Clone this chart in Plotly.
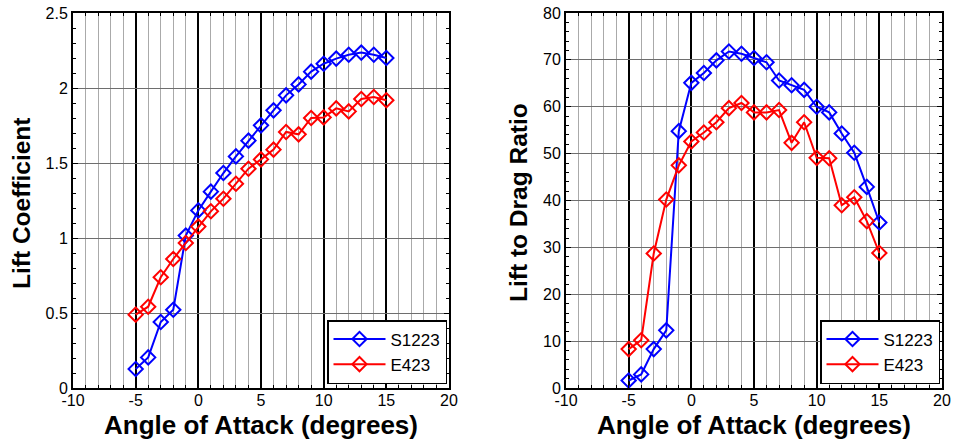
import plotly.graph_objects as go

# Angle of attack (degrees)
alpha = [-5, -4, -3, -2, -1, 0, 1, 2, 3, 4, 5, 6, 7, 8, 9, 10, 11, 12, 13, 14, 15]

# Lift coefficient
cl_s1223 = [0.127, 0.204, 0.44, 0.522, 1.016, 1.184, 1.309, 1.433, 1.544, 1.649, 1.751,
            1.851, 1.951, 2.024, 2.109, 2.162, 2.196, 2.222, 2.236, 2.222, 2.200]
cl_e423 = [0.489, 0.542, 0.738, 0.860, 0.967, 1.076, 1.178, 1.262, 1.362, 1.462, 1.524,
           1.589, 1.707, 1.691, 1.800, 1.804, 1.864, 1.844, 1.927, 1.940, 1.918]

# Lift to drag ratio
ld_s1223 = [1.6, 2.9, 8.3, 12.3, 54.8, 65.1, 67.2, 69.9, 71.8, 71.3, 70.4,
            69.5, 65.6, 64.6, 63.6, 60.0, 58.8, 54.3, 50.2, 42.9, 35.3]
ld_e423 = [8.3, 10.2, 28.7, 40.2, 47.5, 52.6, 54.5, 56.7, 59.7, 60.8, 58.8,
           58.8, 59.3, 52.3, 56.7, 49.1, 49.0, 39.0, 40.7, 35.6, 28.8]

x_ticks = [-10, -5, 0, 5, 10, 15, 20]
x_tick_text = ["-10", "-5", "0", "5", "10", "15", "20"]
cl_ticks = [0, 0.5, 1, 1.5, 2, 2.5]
cl_tick_text = ["0", "0.5", "1", "1.5", "2", "2.5"]
ld_ticks = [0, 10, 20, 30, 40, 50, 60, 70, 80]

FONT = "Liberation Sans, Arial, sans-serif"
W, H = 953, 441

fig = go.Figure()

series = [
    ("S1223", "#0000ff", cl_s1223, ld_s1223),
    ("E423", "#ff0000", cl_e423, ld_e423),
]
for name, color, cl, ld in series:
    common = dict(
        mode="lines+markers",
        line=dict(color=color, width=2),
        marker=dict(symbol="diamond-open", size=11, color=color, line=dict(width=2, color=color)),
        name=name,
    )
    fig.add_trace(go.Scatter(x=alpha, y=cl, xaxis="x", yaxis="y", legend="legend", **common))
    fig.add_trace(go.Scatter(x=alpha, y=ld, xaxis="x2", yaxis="y2", legend="legend2", **common))

# plot-area geometry in pixels
left_box = (73, 449)
right_box = (566, 942)
top_px, bottom_px = 13, 388
ydom = [1 - bottom_px / H, 1 - top_px / H]


def xaxis_cfg(box, anchor):
    return dict(
        domain=[box[0] / W, box[1] / W], anchor=anchor, range=[-10, 20],
        automargin=False,
        tickmode="array", tickvals=x_ticks, ticktext=x_tick_text,
        ticks="inside", ticklen=5, tickcolor="black", tickwidth=1,
        ticklabelstandoff=-3,
        showline=True, linecolor="black", linewidth=2, mirror="allticks",
        showgrid=True, gridcolor="black", gridwidth=1.5,
        minor=dict(dtick=1, showgrid=True, gridcolor="#aaaaaa", gridwidth=1,
                   ticks="inside", ticklen=3, tickcolor="black"),
        zeroline=False,
        tickfont=dict(family=FONT, size=16, color="black"),
    )


def yaxis_cfg(anchor, rng, vals, text, minor_dtick):
    return dict(
        domain=ydom, anchor=anchor, range=rng,
        automargin=False,
        tickmode="array", tickvals=vals, ticktext=text,
        ticks="inside", ticklen=5, tickcolor="black", tickwidth=1,
        showline=True, linecolor="black", linewidth=2, mirror="allticks",
        showgrid=True, gridcolor="#6e6e6e", gridwidth=1,
        minor=dict(dtick=minor_dtick, showgrid=False,
                   ticks="inside", ticklen=3, tickcolor="black"),
        zeroline=False,
        tickfont=dict(family=FONT, size=16, color="black"),
    )


legend_common = dict(
    bgcolor="white", bordercolor="black", borderwidth=1.5,
    font=dict(family=FONT, size=17, color="black"),
    xanchor="right", yanchor="bottom", tracegroupgap=0,
    itemwidth=52,
)

fig.update_layout(
    width=W, height=H,
    margin=dict(l=0, r=0, t=0, b=0, autoexpand=False),
    paper_bgcolor="white", plot_bgcolor="white",
    xaxis=xaxis_cfg(left_box, "y"),
    yaxis=yaxis_cfg("x", [0, 2.5], cl_ticks, cl_tick_text, 0.1),
    xaxis2=xaxis_cfg(right_box, "y2"),
    yaxis2=yaxis_cfg("x2", [0, 80], ld_ticks, [str(v) for v in ld_ticks], 2),
    legend=dict(x=447 / W, y=1 - 384 / H, **legend_common),
    legend2=dict(x=940 / W, y=1 - 384 / H, **legend_common),
    showlegend=True,
)

x_title_font = dict(family=FONT, size=26, color="black")
y_title_font = dict(family=FONT, size=24.5, color="black")
annotations = [
    dict(text="<b>Angle of Attack (degrees)</b>", x=(left_box[0] + left_box[1]) / 2 / W,
         y=1 - 425 / H, xref="paper", yref="paper", showarrow=False, font=x_title_font,
         xanchor="center", yanchor="middle"),
    dict(text="<b>Angle of Attack (degrees)</b>", x=(right_box[0] + right_box[1]) / 2 / W,
         y=1 - 425 / H, xref="paper", yref="paper", showarrow=False, font=x_title_font,
         xanchor="center", yanchor="middle"),
    dict(text="<b>Lift Coefficient</b>", x=22 / W, y=1 - 203 / H, xref="paper", yref="paper",
         showarrow=False, font=y_title_font, textangle=-90, xanchor="center", yanchor="middle"),
    dict(text="<b>Lift to Drag Ratio</b>", x=519 / W, y=1 - 203 / H, xref="paper", yref="paper",
         showarrow=False, font=y_title_font, textangle=-90, xanchor="center", yanchor="middle"),
]
fig.update_layout(annotations=annotations)

fig.write_html("out.html")
